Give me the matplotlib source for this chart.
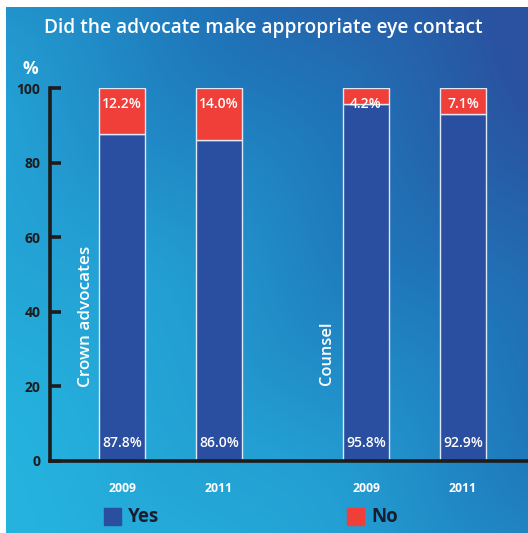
import numpy as np
import matplotlib.pyplot as plt
from matplotlib.colors import LinearSegmentedColormap
from matplotlib.patches import Rectangle

# Survey results: share of responses per group and year
groups = ["Crown advocates", "Counsel"]
years = ["2009", "2011", "2009", "2011"]
yes_vals = [87.8, 86.0, 95.8, 92.9]
no_vals = [12.2, 14.0, 4.2, 7.1]
yticks = [0, 20, 40, 60, 80, 100]

W, H = 528, 533
fig = plt.figure(figsize=(W / 100, H / 100), dpi=100)
fig.patch.set_facecolor("white")

FONT = ["Open Sans", "DejaVu Sans"]

# Gradient panel behind the chart
bg = fig.add_axes([6 / W, 0, (W - 6) / W, (H - 7) / H])
bg.set_axis_off()
ny, nx = 200, 200
yy, xx = np.mgrid[0:1:ny * 1j, 0:1:nx * 1j]
t = np.clip(0.55 * xx + 0.45 * yy, 0, 1)
t = t + 0.025 * np.sin(9 * (xx - yy))
cmap = LinearSegmentedColormap.from_list(
    "panel", ["#25b3de", "#239fd3", "#1f78bb", "#2a52a0"])
bg.imshow(t, cmap=cmap, origin="lower", aspect="auto", extent=[0, 1, 0, 1],
          vmin=0.05, vmax=0.95, interpolation="bicubic")
bg.set_xlim(0, 1)
bg.set_ylim(0, 1)

# Main axes
ax_left, ax_right = 50, 528
ax_bottom, ax_top = H - 461, H - 88
ax = fig.add_axes([ax_left / W, ax_bottom / H,
                   (ax_right - ax_left) / W, (ax_top - ax_bottom) / H])
ax.patch.set_alpha(0)

pos = [0, 1, 2.515, 3.515]
bw = 0.474
unit = 97.0
x0 = -72 / unit
ax.set_xlim(x0, x0 + (ax_right - ax_left) / unit)
ax.set_ylim(0, 100)

blue = "#2a4fa1"
red = "#f03e38"
ax.bar(pos, yes_vals, width=bw, color=blue, edgecolor="#dfe8f5",
       linewidth=1.0, zorder=2)
ax.bar(pos, no_vals, width=bw, bottom=yes_vals, color=red,
       edgecolor="#dfe8f5", linewidth=1.0, zorder=2)

for p, y, n, yr in zip(pos, yes_vals, no_vals, years):
    ax.text(p, 95.7, f"{n:.1f}%", ha="center", va="center", color="white",
            fontsize=10, fontweight="semibold", family=FONT, zorder=3)
    ax.text(p, 4.9, f"{y:.1f}%", ha="center", va="center", color="white",
            fontsize=10, fontweight="semibold", family=FONT, zorder=3)
    ax.text(p, -7.5, yr, ha="center", va="center", color="white",
            fontsize=8.8, fontweight="bold", family=FONT, clip_on=False)

# Group labels
ax.text(-0.371, 19.8, groups[0], rotation=90, ha="center", va="bottom",
        color="white", fontsize=12.3, fontweight="semibold", family=FONT,
        zorder=3)
ax.text(2.113, 20.3, groups[1], rotation=90, ha="center", va="bottom",
        color="white", fontsize=11.8, fontweight="semibold", family=FONT,
        zorder=3)

# Axes styling
for s in ["top", "right"]:
    ax.spines[s].set_visible(False)
for s in ["left", "bottom"]:
    ax.spines[s].set_linewidth(2.6)
    ax.spines[s].set_color("#1c1c1c")
ax.set_xticks([])
ax.set_yticks(yticks)
ax.set_yticklabels([str(v) for v in yticks], family=FONT,
                   fontweight="bold", fontsize=10, color="#1c1c1c")
ax.tick_params(axis="y", direction="in", length=8, width=2.6,
               color="#1c1c1c", pad=7)

# Title and unit
fig.text(263 / W, 1 - 28 / H, "Did the advocate make appropriate eye contact",
         ha="center", va="center", color="white", fontsize=13.75,
         fontweight="semibold", family=FONT)
fig.text(30 / W, 1 - 69 / H, "%", ha="center", va="center", color="white",
         fontsize=12.5, fontweight="bold", family=FONT)

# Legend
for x, label, col in [(104, "Yes", blue), (347, "No", red)]:
    fig.patches.append(Rectangle((x / W, 1 - 525 / H), 17 / W, 17 / H,
                                 transform=fig.transFigure, color=col,
                                 figure=fig))
    fig.text((x + 24) / W, 1 - 517 / H, label, ha="left", va="center",
             color="#1a1d2e", fontsize=13.5, fontweight="bold", family=FONT)

fig.savefig("out.png", dpi=100)
